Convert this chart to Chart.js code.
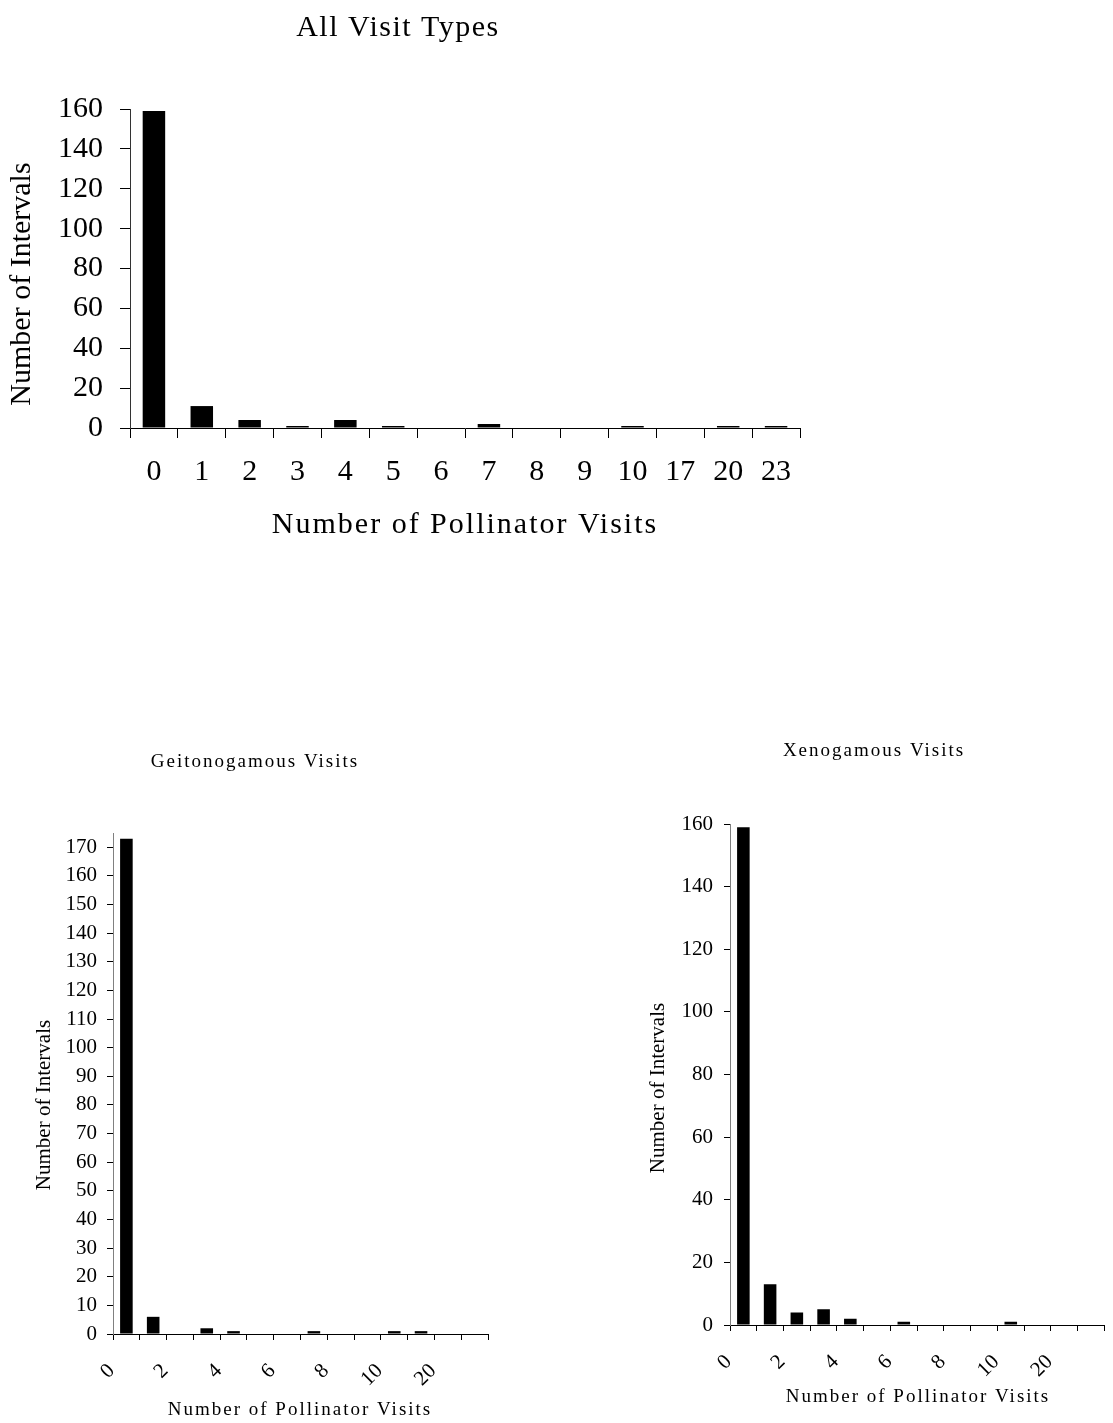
<!DOCTYPE html>
<html>
<head>
<meta charset="utf-8">
<title>Pollinator visits</title>
<script src="https://cdn.jsdelivr.net/npm/chart.js@4.4.1/dist/chart.umd.min.js"></script>
<style>
  body { margin: 0; background: #fff; }
  #page { position: relative; width: 1113px; height: 1423px; }
  canvas { position: absolute; }
</style>
</head>
<body>
<div id="page">
  <canvas id="chart-all" width="840" height="560" style="left:0px;top:0px"></canvas>
  <canvas id="chart-geito" width="520" height="703" style="left:0px;top:720px"></canvas>
  <canvas id="chart-xeno" width="553" height="703" style="left:560px;top:720px"></canvas>
</div>
<script>
var visitCategories = ["0", "1", "2", "3", "4", "5", "6", "7", "8", "9", "10", "17", "20", "23"];
var allVisits   = [159, 11, 4, 1, 4, 1, 0, 2, 0, 0, 1, 0, 1, 1];
var geitoVisits = [173, 6, 0, 2, 1, 0, 0, 1, 0, 0, 1, 1, 0, 0];
var xenoVisits  = [159, 13, 4, 5, 2, 0, 1, 0, 0, 0, 1, 0, 0, 0];
var allTicks   = [0, 20, 40, 60, 80, 100, 120, 140, 160];
var geitoTicks = [0, 10, 20, 30, 40, 50, 60, 70, 80, 90, 100, 110, 120, 130, 140, 150, 160, 170];
var xenoTicks  = [0, 20, 40, 60, 80, 100, 120, 140, 160];

var serif = '"Liberation Serif", "Times New Roman", serif';

// titles are drawn here so they can get the wide letter spacing of the original
var chartText = {
  id: 'chartText',
  afterDraw: function(chart, args, opts) {
    var ctx = chart.ctx;
    (opts.items || []).forEach(function(it) {
      ctx.save();
      ctx.font = it.size + 'px ' + serif;
      ctx.fillStyle = '#000';
      ctx.letterSpacing = (it.spacing || 0) + 'px';
      ctx.textAlign = 'center';
      ctx.textBaseline = 'middle';
      ctx.translate(it.x, it.y);
      if (it.rotate) ctx.rotate(it.rotate);
      ctx.fillText(it.text, 0, 0);
      ctx.restore();
    });
  }
};

function allLabel(v, i) { return visitCategories[i]; }
// every other category is labelled; trailing spaces push the slanted label off the tick like the original
function slantLabel(v, i) { return i % 2 === 0 ? visitCategories[i] + '    ' : ''; }

function barChart(id, values, yTicks, s) {
  return new Chart(document.getElementById(id), {
    type: 'bar',
    data: {
      labels: visitCategories,
      datasets: [{ data: values, backgroundColor: '#000', barPercentage: 0.47, categoryPercentage: 1 }]
    },
    options: {
      responsive: false,
      animation: false,
      layout: { padding: { top: s.top, right: s.right, left: 0, bottom: 0 } },
      plugins: {
        legend: { display: false },
        tooltip: { enabled: false },
        chartText: { items: s.texts }
      },
      scales: {
        x: {
          grid: { offset: true, drawOnChartArea: false, tickLength: s.xTick, color: '#000' },
          border: { color: '#000' },
          ticks: {
            autoSkip: false, color: '#000', font: { family: serif, size: s.xFont },
            padding: s.xPad, minRotation: s.rot, maxRotation: s.rot, callback: s.xLabel
          },
          afterFit: function(scale) { scale.height = s.xHeight; }
        },
        y: {
          min: 0, max: s.max,
          grid: { drawOnChartArea: false, tickLength: s.yTick, color: '#000' },
          border: { color: s.yLine },
          ticks: { autoSkip: false, color: '#000', font: { family: serif, size: s.yFont }, padding: s.yPad },
          afterBuildTicks: function(scale) { scale.ticks = yTicks.map(function(v) { return { value: v }; }); },
          afterFit: function(scale) { scale.width = s.yWidth; }
        }
      }
    },
    plugins: [chartText]
  });
}

window.onload = function() {
  barChart('chart-all', allVisits, allTicks, {
    top: 109, right: 40, max: 160, yWidth: 130, xHeight: 132,
    xTick: 10, yTick: 10, xFont: 30, yFont: 30, xPad: 16, yPad: 17, rot: 0,
    yLine: '#333', xLabel: allLabel,
    texts: [
      { text: 'All Visit Types', x: 398, y: 28, size: 30, spacing: 1.5 },
      { text: 'Number of Pollinator Visits', x: 465, y: 525, size: 30, spacing: 2 },
      { text: 'Number of Intervals', x: 22, y: 284, size: 30, rotate: -Math.PI / 2 }
    ]
  });

  barChart('chart-geito', geitoVisits, geitoTicks, {
    top: 113, right: 32, max: 175, yWidth: 113, xHeight: 89,
    xTick: 6, yTick: 6, xFont: 21, yFont: 21, xPad: 4, yPad: 10, rot: 45,
    yLine: '#808080', xLabel: slantLabel,
    texts: [
      { text: 'Geitonogamous Visits', x: 255, y: 42, size: 19, spacing: 2 },
      { text: 'Number of Pollinator Visits', x: 300, y: 690, size: 19, spacing: 2 },
      { text: 'Number of Intervals', x: 44, y: 385, size: 21, rotate: -Math.PI / 2 }
    ]
  });

  barChart('chart-xeno', xenoVisits, xenoTicks, {
    top: 104, right: 5, max: 160, yWidth: 170, xHeight: 98,
    xTick: 6, yTick: 6, xFont: 21, yFont: 21, xPad: 4, yPad: 11, rot: 45,
    yLine: '#808080', xLabel: slantLabel,
    texts: [
      { text: 'Xenogamous Visits', x: 314, y: 31, size: 19, spacing: 2 },
      { text: 'Number of Pollinator Visits', x: 358, y: 677, size: 19, spacing: 2 },
      { text: 'Number of Intervals', x: 98, y: 368, size: 21, rotate: -Math.PI / 2 }
    ]
  });
};
</script>
</body>
</html>
